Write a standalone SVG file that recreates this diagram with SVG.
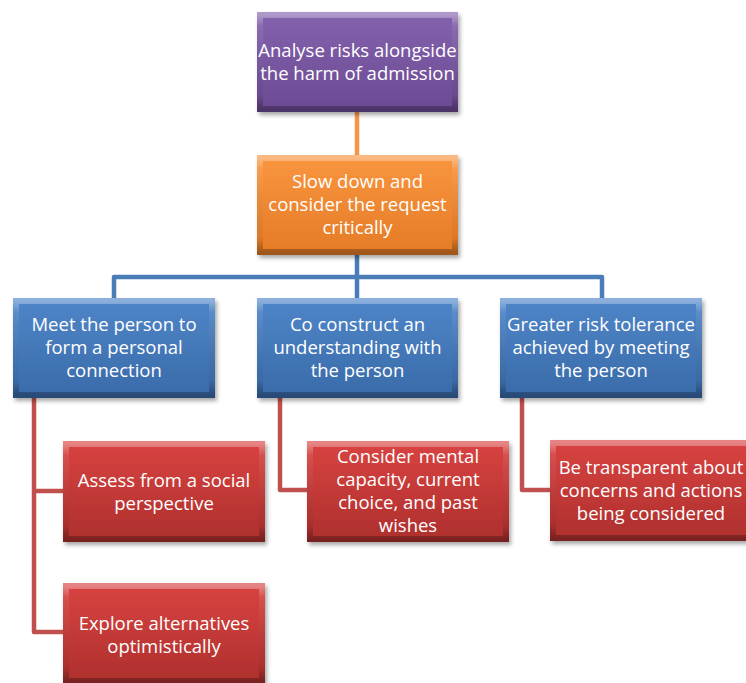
<svg xmlns="http://www.w3.org/2000/svg" width="746" height="683" viewBox="0 0 746 683">
  <defs>
    <filter id="shadow" x="-10%" y="-10%" width="125%" height="130%">
      <feDropShadow dx="2" dy="3" stdDeviation="2" flood-color="#000" flood-opacity="0.35"/>
    </filter>
    <linearGradient id="gPurple" x1="0" y1="0" x2="0" y2="1">
      <stop offset="0" stop-color="#8462ad"/>
      <stop offset="1" stop-color="#6b4a93"/>
    </linearGradient>
    <linearGradient id="gOrange" x1="0" y1="0" x2="0" y2="1">
      <stop offset="0" stop-color="#f9953f"/>
      <stop offset="1" stop-color="#e57b26"/>
    </linearGradient>
    <linearGradient id="gBlue" x1="0" y1="0" x2="0" y2="1">
      <stop offset="0" stop-color="#4f86c9"/>
      <stop offset="1" stop-color="#396aa8"/>
    </linearGradient>
    <linearGradient id="gRed" x1="0" y1="0" x2="0" y2="1">
      <stop offset="0" stop-color="#d94341"/>
      <stop offset="1" stop-color="#ad2f2d"/>
    </linearGradient>
    <!-- bevel rim: light along the top edge, darker toward the bottom -->
    <linearGradient id="gBevel" x1="0" y1="0" x2="0" y2="1">
      <stop offset="0" stop-color="#fff" stop-opacity="0.35"/>
      <stop offset="0.12" stop-color="#fff" stop-opacity="0.08"/>
      <stop offset="0.85" stop-color="#000" stop-opacity="0.05"/>
      <stop offset="1" stop-color="#000" stop-opacity="0.3"/>
    </linearGradient>
    <style>
      .box { filter: url(#shadow); }
      .bevel { fill: none; stroke: url(#gBevel); stroke-width: 6; }
      .label { font-family: "Open Sans", "Noto Sans", "DejaVu Sans", sans-serif; font-size: 18.5px; fill: #ffffff; text-anchor: middle; }
      .wire { fill: none; stroke-width: 4.5; stroke-linejoin: round; }
      .w-orange { stroke: #f79646; }
      .w-blue { stroke: #4a7cb8; }
      .w-red { stroke: #c0504d; }
    </style>
  </defs>

  <rect width="746" height="683" fill="#ffffff"/>

  <!-- connectors -->
  <g id="connectors">
    <path class="wire w-orange" d="M357 112 V155"/>
    <path class="wire w-blue" d="M357 255 V277 M114 298 V277 H602 V298 M357 277 V298"/>
    <path class="wire w-red" d="M34 398 V632 H63 M34 491 H63"/>
    <path class="wire w-red" d="M280 398 V490 H307"/>
    <path class="wire w-red" d="M522 398 V490 H550"/>
  </g>

  <g id="n-analyse">
    <rect class="box" x="257" y="12" width="201" height="100" fill="url(#gPurple)"/>
    <rect class="bevel" x="260" y="15" width="195" height="94"/>
    <text class="label" x="357.5" y="57">Analyse risks alongside</text>
    <text class="label" x="357.5" y="80">the harm of admission</text>
  </g>

  <g id="n-slow">
    <rect class="box" x="257" y="155" width="201" height="100" fill="url(#gOrange)"/>
    <rect class="bevel" x="260" y="158" width="195" height="94"/>
    <text class="label" x="357.5" y="188">Slow down and</text>
    <text class="label" x="357.5" y="211">consider the request</text>
    <text class="label" x="357.5" y="234">critically</text>
  </g>

  <g id="n-meet">
    <rect class="box" x="13" y="298" width="202" height="100" fill="url(#gBlue)"/>
    <rect class="bevel" x="16" y="301" width="196" height="94"/>
    <text class="label" x="114" y="331">Meet the person to</text>
    <text class="label" x="114" y="354">form a personal</text>
    <text class="label" x="114" y="377">connection</text>
  </g>

  <g id="n-coconstruct">
    <rect class="box" x="257" y="298" width="201" height="100" fill="url(#gBlue)"/>
    <rect class="bevel" x="260" y="301" width="195" height="94"/>
    <text class="label" x="357.5" y="331">Co construct an</text>
    <text class="label" x="357.5" y="354">understanding with</text>
    <text class="label" x="357.5" y="377">the person</text>
  </g>

  <g id="n-tolerance">
    <rect class="box" x="500" y="298" width="202" height="100" fill="url(#gBlue)"/>
    <rect class="bevel" x="503" y="301" width="196" height="94"/>
    <text class="label" x="601" y="331">Greater risk tolerance</text>
    <text class="label" x="601" y="354">achieved by meeting</text>
    <text class="label" x="601" y="377">the person</text>
  </g>

  <g id="n-assess">
    <rect class="box" x="63" y="441" width="202" height="101" fill="url(#gRed)"/>
    <rect class="bevel" x="66" y="444" width="196" height="95"/>
    <text class="label" x="164" y="487">Assess from a social</text>
    <text class="label" x="164" y="510">perspective</text>
  </g>

  <g id="n-explore">
    <rect class="box" x="63" y="583" width="202" height="101" fill="url(#gRed)"/>
    <rect class="bevel" x="66" y="586" width="196" height="95"/>
    <text class="label" x="164" y="630">Explore alternatives</text>
    <text class="label" x="164" y="653">optimistically</text>
  </g>

  <g id="n-capacity">
    <rect class="box" x="307" y="441" width="202" height="101" fill="url(#gRed)"/>
    <rect class="bevel" x="310" y="444" width="196" height="95"/>
    <text class="label" x="408" y="463">Consider mental</text>
    <text class="label" x="408" y="486">capacity, current</text>
    <text class="label" x="408" y="509">choice, and past</text>
    <text class="label" x="408" y="532">wishes</text>
  </g>

  <g id="n-transparent">
    <rect class="box" x="550" y="440" width="202" height="101" fill="url(#gRed)"/>
    <rect class="bevel" x="553" y="443" width="196" height="95"/>
    <text class="label" x="651" y="474">Be transparent about</text>
    <text class="label" x="651" y="497">concerns and actions</text>
    <text class="label" x="651" y="520">being considered</text>
  </g>
</svg>
